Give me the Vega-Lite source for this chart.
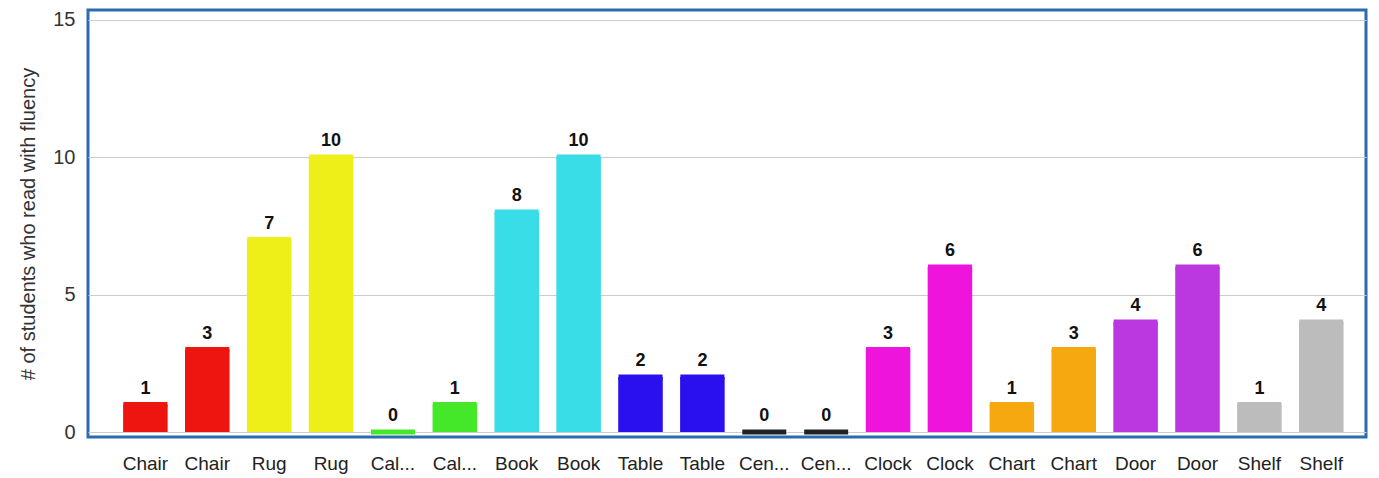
{
  "$schema": "https://vega.github.io/schema/vega-lite/v6.json",
  "width": 1278,
  "height": 427,
  "autosize": {"type": "none"},
  "padding": {"left": 88, "top": 10, "right": 13, "bottom": 41},
  "background": "white",
  "data": {
    "values": [
      {"key": "01|Chair", "value": 1, "group": "Chair"},
      {"key": "02|Chair", "value": 3, "group": "Chair"},
      {"key": "03|Rug", "value": 7, "group": "Rug"},
      {"key": "04|Rug", "value": 10, "group": "Rug"},
      {"key": "05|Cal...", "value": 0, "group": "Cal"},
      {"key": "06|Cal...", "value": 1, "group": "Cal"},
      {"key": "07|Book", "value": 8, "group": "Book"},
      {"key": "08|Book", "value": 10, "group": "Book"},
      {"key": "09|Table", "value": 2, "group": "Table"},
      {"key": "10|Table", "value": 2, "group": "Table"},
      {"key": "11|Cen...", "value": 0, "group": "Cen"},
      {"key": "12|Cen...", "value": 0, "group": "Cen"},
      {"key": "13|Clock", "value": 3, "group": "Clock"},
      {"key": "14|Clock", "value": 6, "group": "Clock"},
      {"key": "15|Chart", "value": 1, "group": "Chart"},
      {"key": "16|Chart", "value": 3, "group": "Chart"},
      {"key": "17|Door", "value": 4, "group": "Door"},
      {"key": "18|Door", "value": 6, "group": "Door"},
      {"key": "19|Shelf", "value": 1, "group": "Shelf"},
      {"key": "20|Shelf", "value": 4, "group": "Shelf"}
    ]
  },
  "encoding": {
    "x": {
      "field": "key",
      "type": "nominal",
      "sort": null,
      "scale": {"paddingInner": 0.28, "paddingOuter": 0.465, "align": 0.61},
      "axis": {
        "title": null,
        "labelExpr": "split(datum.label, '|')[1]",
        "labelAngle": 0,
        "labelPadding": 17,
        "labelFontSize": 19,
        "labelColor": "#222222",
        "labelFont": "Liberation Sans",
        "ticks": false,
        "domain": false,
        "grid": false
      }
    },
    "y": {
      "field": "value",
      "type": "quantitative",
      "scale": {"domain": [-0.18, 15.35], "nice": false, "zero": false},
      "axis": {
        "title": "# of students who read with fluency",
        "titleFont": "Liberation Sans",
        "titleFontSize": 20,
        "titleFontWeight": "normal",
        "titleColor": "#333333",
        "titlePadding": 14,
        "values": [0, 5, 10, 15],
        "labelFontSize": 20,
        "labelColor": "#333333",
        "labelFont": "Liberation Sans",
        "labelPadding": 13,
        "ticks": false,
        "domain": false,
        "grid": true,
        "gridColor": "#cccccc",
        "gridWidth": 1
      }
    },
    "color": {
      "field": "group",
      "type": "nominal",
      "legend": null,
      "scale": {
        "domain": ["Chair", "Rug", "Cal", "Book", "Table", "Cen", "Clock", "Chart", "Door", "Shelf"],
        "range": ["#ee1510", "#eeee18", "#44e828", "#38dde8", "#2a10ee", "#1e2226", "#ee14dc", "#f5a810", "#bb38e0", "#bcbcbc"]
      }
    }
  },
  "layer": [
    {"mark": {"type": "bar", "y2": {"expr": "scale('y', 0)"}}, "encoding": {"y2": {"datum": 0}}},
    {"mark": {"type": "tick", "thickness": 5, "size": 44, "opacity": 1}},
    {
      "mark": {"type": "text", "baseline": "bottom", "dy": -7, "fontSize": 18, "fontWeight": "bold", "font": "Liberation Sans", "color": "#111111"},
      "encoding": {"text": {"field": "value", "type": "quantitative"}, "color": {"value": "#111111"}}
    }
  ],
  "config": {
    "view": {"stroke": "#2b6cb0", "strokeWidth": 3}
  }
}
